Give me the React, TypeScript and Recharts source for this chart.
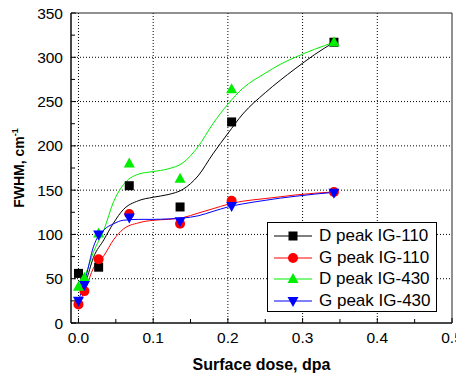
import {
  CartesianGrid,
  ComposedChart,
  Line,
  ReferenceArea,
  Scatter,
  XAxis,
  YAxis,
} from "recharts";

// measured points (surface dose, dpa -> FWHM, cm-1)
const doseBlack = [0, 0.027, 0.068, 0.136, 0.205, 0.342];
const dPeak110 = [56, 63, 155, 131, 227, 317];
const dose = [0, 0.008, 0.027, 0.068, 0.136, 0.205, 0.342];
const gPeak110 = [21, 36, 72, 123, 112, 138, 148];
const dPeak430 = [41, 51, 101, 180, 163, 264, 317];
const gPeak430 = [25, 43, 100, 119, 115, 132, 147];

// smoothed guide curves
const fitDose = [0, 0.01, 0.02, 0.034, 0.047, 0.06, 0.08, 0.1, 0.12, 0.14, 0.16, 0.18, 0.2, 0.22, 0.25, 0.27, 0.29, 0.316, 0.342];
const fitD110 = [38, 48, 74, 94, 113, 128, 138, 142, 145, 151, 166, 191, 214, 236, 260, 274, 287, 303, 317];
const fitG110 = [21, 40, 62, 76, 94, 106, 113, 116, 117, 119, 124, 129, 134, 137.5, 140.5, 142.5, 144.5, 146.5, 148];
const fitD430 = [40, 56, 80, 105, 137, 156, 168, 171, 174, 181, 199, 225, 247, 265, 282, 292, 300, 309, 317];
const fitG430 = [25, 52, 86, 105, 112, 116, 117, 117, 117.5, 118.5, 121, 126, 131, 134.5, 138.5, 141, 143, 145.5, 147.5];

const xTicks = [0, 0.05, 0.1, 0.15, 0.2, 0.25, 0.3, 0.35, 0.4, 0.45, 0.5];
const yTicks = [0, 25, 50, 75, 100, 125, 150, 175, 200, 225, 250, 275, 300, 325, 350];
const xGrid = [0, 0.1, 0.2, 0.3, 0.4];
const yGrid = [50, 100, 150, 200, 250, 300];

const FONT = "'Liberation Sans', Arial, sans-serif";
const X_MARGIN = 9;
const Y_MARGIN = 8;

const toPts = (xs: number[], ys: number[]) => xs.map((x, i) => ({ x, y: ys[i] }));

const series = [
  { name: "D peak IG-110", color: "#000000", marker: "square", pts: toPts(doseBlack, dPeak110), fit: toPts(fitDose, fitD110) },
  { name: "G peak IG-110", color: "#ff0000", marker: "circle", pts: toPts(dose, gPeak110), fit: toPts(fitDose, fitG110) },
  { name: "D peak IG-430", color: "#00ee00", marker: "up", pts: toPts(dose, dPeak430), fit: toPts(fitDose, fitD430) },
  { name: "G peak IG-430", color: "#0000ff", marker: "down", pts: toPts(dose, gPeak430), fit: toPts(fitDose, fitG430) },
];

function Marker({ kind, cx, cy, color }: { kind: string; cx: number; cy: number; color: string }) {
  if (kind === "square") return <rect x={cx - 4.5} y={cy - 4.5} width={9} height={9} fill={color} />;
  if (kind === "circle") return <circle cx={cx} cy={cy} r={5} fill={color} />;
  if (kind === "up")
    return <polygon points={`${cx},${cy - 6} ${cx - 5.5},${cy + 4} ${cx + 5.5},${cy + 4}`} fill={color} />;
  return <polygon points={`${cx},${cy + 6} ${cx - 5.5},${cy - 4} ${cx + 5.5},${cy - 4}`} fill={color} />;
}

const XTick = (props: any) => {
  const { x, y, payload } = props;
  const v = payload.value;
  const major = Math.abs(v * 10 - Math.round(v * 10)) < 1e-6;
  const axisY = y - X_MARGIN;
  return (
    <g>
      <line x1={x} x2={x} y1={axisY} y2={axisY - (major ? 5 : 4)} stroke="#000" />
      {major && (
        <text x={x} y={y} dy="0.71em" textAnchor="middle" fontSize={15.5} fontFamily={FONT} fill="#000">
          {v.toFixed(1)}
        </text>
      )}
    </g>
  );
};

const YTick = (props: any) => {
  const { x, y, payload } = props;
  const v = payload.value;
  const major = v % 50 === 0;
  const axisX = x + Y_MARGIN;
  return (
    <g>
      <line x1={axisX} x2={axisX + (major ? 5 : 4)} y1={y} y2={y} stroke="#000" />
      {major && (
        <text x={x} y={y} dy="0.355em" textAnchor="end" fontSize={15.5} fontFamily={FONT} fill="#000">
          {v}
        </text>
      )}
    </g>
  );
};

const YLabel = (props: any) => {
  const vb = props.viewBox;
  const cx = 16;
  const cy = vb.y + vb.height / 2;
  return (
    <text
      x={cx}
      y={cy}
      transform={`rotate(-90, ${cx}, ${cy})`}
      textAnchor="middle"
      fontSize={14}
      fontWeight="bold"
      fontFamily={FONT}
      fill="#000"
    >
      FWHM, cm
      <tspan fontSize={9} dy={-6}>-1</tspan>
    </text>
  );
};

const XLabel = (props: any) => {
  const vb = props.viewBox;
  return (
    <text
      x={vb.x + vb.width / 2}
      y={vb.y + 47}
      textAnchor="middle"
      fontSize={16}
      fontWeight="bold"
      fontFamily={FONT}
      fill="#000"
    >
      Surface dose, dpa
    </text>
  );
};

function LegendBox() {
  return (
    <div
      style={{
        position: "absolute",
        left: 259,
        top: 214,
        width: 168,
        height: 88,
        border: "1px solid #000",
        background: "#fff",
        fontFamily: FONT,
        fontSize: 17,
      }}
    >
      {series.map((s, i) => (
        <div
          key={s.name}
          style={{ position: "absolute", left: 0, top: 2 + i * 21.7, height: 22, display: "flex", alignItems: "center" }}
        >
          <svg width={48} height={22}>
            <line x1={6} x2={44} y1={11} y2={11} stroke={s.color} strokeWidth={1} />
            <Marker kind={s.marker} cx={25} cy={11} color={s.color} />
          </svg>
          <span style={{ marginLeft: 3, whiteSpace: "nowrap" }}>{s.name}</span>
        </div>
      ))}
    </div>
  );
}

export default function App() {
  return (
    <div style={{ position: "relative", width: 456, height: 370 }}>
      <ComposedChart width={456} height={370} margin={{ top: 5, right: 12, bottom: 25, left: 0 }}>
        <CartesianGrid
          stroke="#000"
          strokeDasharray="1 2"
          horizontalValues={yGrid}
          verticalValues={xGrid}
        />
        <XAxis
          type="number"
          dataKey="x"
          domain={[-0.01, 0.5]}
          ticks={xTicks}
          interval={0}
          height={30}
          allowDataOverflow
          tickSize={0}
          tickMargin={X_MARGIN}
          tick={<XTick />}
          axisLine={{ stroke: "#000" }}
          label={<XLabel />}
        />
        <YAxis
          type="number"
          domain={[0, 350]}
          ticks={yTicks}
          interval={0}
          width={63}
          allowDataOverflow
          tickSize={0}
          tickMargin={Y_MARGIN}
          tick={<YTick />}
          axisLine={{ stroke: "#000" }}
          label={<YLabel />}
        />
        <ReferenceArea x1={-0.01} x2={0.5} y1={0} y2={350} fill="none" stroke="#222" strokeWidth={1} />
        {series.map((s) => (
          <Line
            key={`fit-${s.name}`}
            data={s.fit}
            dataKey="y"
            type="monotone"
            stroke={s.color}
            strokeWidth={1}
            dot={false}
            activeDot={false}
            isAnimationActive={false}
          />
        ))}
        {series.map((s) => (
          <Scatter
            key={`pts-${s.name}`}
            data={s.pts}
            dataKey="y"
            isAnimationActive={false}
            shape={(p: any) => <Marker kind={s.marker} cx={p.cx} cy={p.cy} color={s.color} />}
          />
        ))}
      </ComposedChart>
      <LegendBox />
    </div>
  );
}
